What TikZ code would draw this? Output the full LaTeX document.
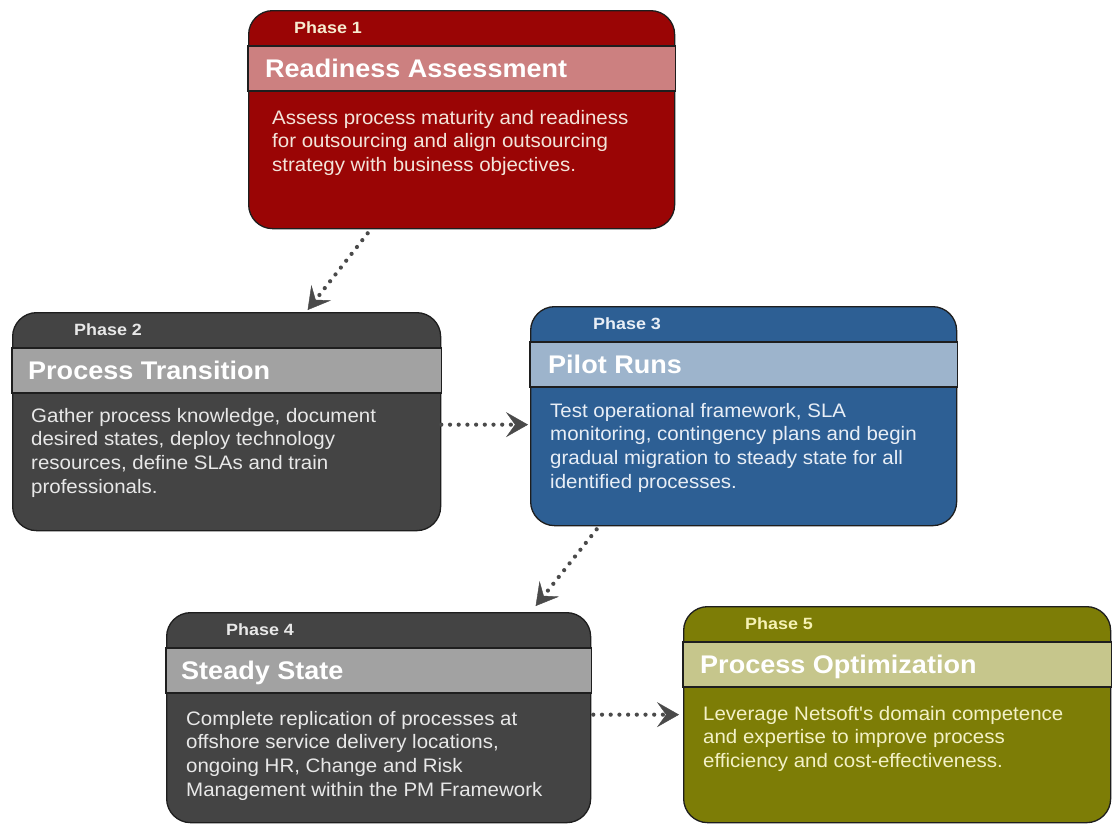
\documentclass[tikz,border=0pt]{standalone}
\usepackage{fontspec}
\setmainfont{Liberation Sans}
\newfontfamily\bodyfont[FakeStretch=1.05]{Liberation Sans}
\newfontfamily\titlefont[FakeStretch=1.06]{Liberation Sans}
\newfontfamily\phasefont[FakeStretch=1.1]{Liberation Sans}
\usetikzlibrary{arrows.meta}
\definecolor{redmain}{HTML}{9A0505}
\definecolor{redband}{HTML}{CC8080}
\definecolor{redtext}{HTML}{F3E4DA}
\definecolor{redphase}{HTML}{F6ECD0}
\definecolor{graymain}{HTML}{444444}
\definecolor{grayband}{HTML}{A2A2A2}
\definecolor{graytext}{HTML}{E8E8E8}
\definecolor{bluemain}{HTML}{2D5F94}
\definecolor{blueband}{HTML}{9DB4CC}
\definecolor{bluetext}{HTML}{E8EEF6}
\definecolor{olivemain}{HTML}{7D7D06}
\definecolor{oliveband}{HTML}{C6C68C}
\definecolor{olivetext}{HTML}{F3F1C6}
\definecolor{olivephase}{HTML}{F6F2B4}
\definecolor{edgecol}{HTML}{1E1E1E}
\definecolor{arrowgray}{HTML}{4A4A4A}
\tikzset{
  phasebox/.style={draw=edgecol, line width=1.3pt, rounded corners=24pt, anchor=north west, inner sep=0pt},
  bandline/.style={draw=edgecol, line width=1.3pt},
  phaselabel/.style={anchor=base west, inner sep=0pt, font={\phasefont\bfseries\fontsize{16.3pt}{19pt}\selectfont}},
  titlelabel/.style={anchor=base west, inner sep=0pt, text=white, font={\titlefont\bfseries\fontsize{25.5pt}{30pt}\selectfont}},
  bodylabel/.style={anchor=base west, inner sep=0pt, align=left, font={\bodyfont\fontsize{19.5pt}{23.7pt}\selectfont}},
  flow/.style={draw=arrowgray, line width=4.2pt, line cap=round, dash pattern=on 0pt off 8.7pt,
    -{Stealth[length=22pt 0, width=25pt 0, inset=9pt 0, line width=0.4pt, fill=arrowgray]}}
}
\begin{document}
\begin{tikzpicture}[x=1pt,y=-1pt]
\fill[white] (0,0) rectangle (1114,825);
\useasboundingbox (0,0) rectangle (1114,825);

% Boxes
\node[phasebox, fill=redmain, minimum width=426pt, minimum height=218pt] (b1) at (248,10) {};
\node[phasebox, fill=graymain, minimum width=428pt, minimum height=218pt] (b2) at (12,312) {};
\node[phasebox, fill=bluemain, minimum width=426pt, minimum height=219pt] (b3) at (530,306) {};
\node[phasebox, fill=graymain, minimum width=424pt, minimum height=210pt] (b4) at (166,612) {};
\node[phasebox, fill=olivemain, minimum width=427pt, minimum height=216pt] (b5) at (683,606) {};

% Bands
\draw[bandline, fill=redband] ([yshift=-36pt]b1.north west) rectangle ([yshift=-81pt]b1.north east);
\draw[bandline, fill=grayband] ([yshift=-36pt]b2.north west) rectangle ([yshift=-81pt]b2.north east);
\draw[bandline, fill=blueband] ([yshift=-36pt]b3.north west) rectangle ([yshift=-81pt]b3.north east);
\draw[bandline, fill=grayband] ([yshift=-36pt]b4.north west) rectangle ([yshift=-81pt]b4.north east);
\draw[bandline, fill=oliveband] ([yshift=-36pt]b5.north west) rectangle ([yshift=-81pt]b5.north east);

% Phase labels
\node[phaselabel, text=redphase] (p1) at ([xshift=46pt, yshift=-23.5pt]b1.north west) {Phase 1};
\node[phaselabel, text=graytext] (p2) at ([xshift=62pt, yshift=-23.5pt]b2.north west) {Phase 2};
\node[phaselabel, text=bluetext] (p3) at ([xshift=63pt, yshift=-23.5pt]b3.north west) {Phase 3};
\node[phaselabel, text=graytext] (p4) at ([xshift=60pt, yshift=-23.5pt]b4.north west) {Phase 4};
\node[phaselabel, text=olivephase] (p5) at ([xshift=62pt, yshift=-23.5pt]b5.north west) {Phase 5};

% Titles
\node[titlelabel] (t1) at ([xshift=17pt, yshift=-67pt]b1.north west) {Readiness Assessment};
\node[titlelabel] (t2) at ([xshift=16pt, yshift=-67pt]b2.north west) {Process Transition};
\node[titlelabel] (t3) at ([xshift=18pt, yshift=-67pt]b3.north west) {Pilot Runs};
\node[titlelabel] (t4) at ([xshift=15pt, yshift=-67pt]b4.north west) {Steady State};
\node[titlelabel] (t5) at ([xshift=17pt, yshift=-67pt]b5.north west) {Process Optimization};

% Body text (anchor = baseline of last line)
\node[bodylabel, text=redtext] (d1) at ([xshift=24pt, yshift=-161.4pt]b1.north west)
  {Assess process maturity and readiness\\for outsourcing and align outsourcing\\strategy with business objectives.};
\node[bodylabel, text=graytext] (d2) at ([xshift=19pt, yshift=-181.1pt]b2.north west)
  {Gather process knowledge, document\\desired states, deploy technology\\resources, define SLAs and train\\professionals.};
\node[bodylabel, text=bluetext] (d3) at ([xshift=20pt, yshift=-182.1pt]b3.north west)
  {Test operational framework, SLA\\monitoring, contingency plans and begin\\gradual migration to steady state for all\\identified processes.};
\node[bodylabel, text=graytext] (d4) at ([xshift=20pt, yshift=-184.1pt]b4.north west)
  {Complete replication of processes at\\offshore service delivery locations,\\ongoing HR, Change and Risk\\Management within the PM Framework};
\node[bodylabel, text=olivetext] (d5) at ([xshift=20pt, yshift=-161.4pt]b5.north west)
  {Leverage Netsoft's domain competence\\and expertise to improve process\\efficiency and cost-effectiveness.};

% Connectors
\draw[flow] ([xshift=-94pt, yshift=-4pt]b1.south) -- ([xshift=81pt, yshift=2pt]b2.north);
\draw[flow] ([xshift=0pt, yshift=-3pt]b2.east) -- ([xshift=-2pt, yshift=-8.5pt]b3.west);
\draw[flow] ([xshift=-147pt, yshift=-3pt]b3.south) -- ([xshift=157pt, yshift=6pt]b4.north);
\draw[flow] ([xshift=2pt, yshift=3pt]b4.east) -- ([xshift=-4pt, yshift=0pt]b5.west);
\end{tikzpicture}
\end{document}
